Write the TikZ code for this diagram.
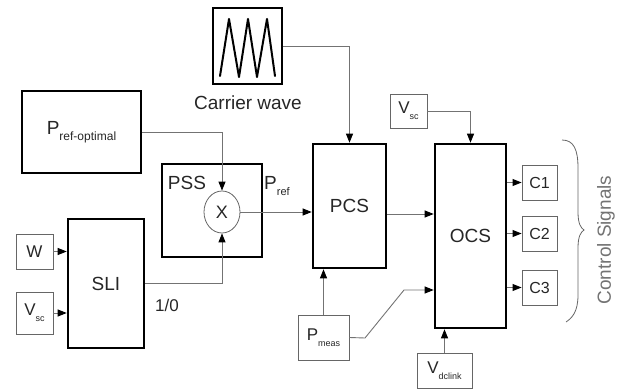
\documentclass[tikz,border=0pt]{standalone}
\usepackage{fontspec}
\setmainfont{Liberation Sans}
\usetikzlibrary{arrows.meta,shapes.geometric}
\newcommand{\fs}[1]{\fontsize{#1}{#1}\selectfont}
\newcommand{\sbx}[2]{\raisebox{-#1}{\fs{9}#2}}
\begin{document}
\begin{tikzpicture}[x=1pt,y=-1pt,
  thickbox/.style={draw=black,line width=2.6pt,inner sep=0pt,text=black!85},
  thinbox/.style={draw=black!60,line width=0.9pt,inner sep=0pt,text=black!85},
  conn/.style={draw=black!55,line width=0.9pt,-{Triangle[length=9pt,width=7pt,color=black,fill=black]}},
  lbl/.style={inner sep=0pt,text=black!85},
  big/.style={font=\fs{19}},
  mid/.style={font=\fs{17}}]
\useasboundingbox (0,0) rectangle (624,390);
% main blocks
\node[thickbox,minimum width=69,minimum height=76] (carrier) at (247.5,46) {};
\draw[line width=2pt,line join=round,line cap=round] (220,76) -- (229,19) -- (239,77) -- (248,19) -- (257,77) -- (267,19) -- (275,76);
\node[lbl,big] (cwlbl) at (248,103) {Carrier wave};
\node[thickbox,minimum width=119,minimum height=82,big] (pref) at (81.5,132) {P\sbx{6pt}{\fs{12}ref-optimal}};
\node[thickbox,minimum width=100,minimum height=93] (pss) at (212,210.5) {};
\node[lbl,big] (psslbl) at (187,183) {PSS};
\node[ellipse,draw=black!60,line width=0.8pt,minimum width=36,minimum height=42,inner sep=0pt,text=black!85,font=\fs{18}] (mult) at (222,212) {X};
\node[lbl,big,anchor=west] (preflbl) at (264,186) {P\sbx{6pt}{\fs{11}ref}};
\node[thickbox,minimum width=76,minimum height=129,big] (sli) at (106,283.5) {SLI};
\node[thinbox,minimum width=37,minimum height=35,mid] (w) at (34.5,251.5) {W};
\node[thinbox,minimum width=37,minimum height=42,mid] (vscl) at (34.5,313) {V\sbx{6pt}{sc}};
\node[lbl,mid] (onezero) at (167,305) {1/0};
\node[thickbox,minimum width=73,minimum height=124,big] (pcs) at (349.5,206) {PCS};
\node[thickbox,minimum width=71,minimum height=184,big] (ocs) at (470.5,236) {OCS};
\node[thinbox,minimum width=37,minimum height=34,mid] (vsct) at (408.5,111) {V\sbx{6pt}{sc}};
\node[thinbox,minimum width=35,minimum height=35,font=\fs{16}] (c1) at (539.5,182.5) {C1};
\node[thinbox,minimum width=35,minimum height=35,font=\fs{16}] (c2) at (539.5,233.5) {C2};
\node[thinbox,minimum width=35,minimum height=35,font=\fs{16}] (c3) at (539.5,287.5) {C3};
\node[thinbox,minimum width=51,minimum height=45,mid] (pmeas) at (323.5,337.5) {P\sbx{6pt}{meas}};
\node[thinbox,minimum width=55,minimum height=35,mid] (vdc) at (444.5,370.5) {V\sbx{6pt}{dclink}};
% connectors
\draw[conn] (carrier.east) -| (pcs.north);
\draw[conn] (pref.east) -| (mult.north);
\draw[conn] (w.east) -- (w.east -| sli.west);
\draw[conn] (vscl.east) -- (vscl.east -| sli.west);
\draw[conn] (sli.east) -| (mult.south);
\draw[conn] (mult.east) -- (mult.east -| pcs.west);
\coordinate (pcsout) at ([yshift=-8pt]pcs.east);
\draw[conn] (pcsout) -- (pcsout -| ocs.west);
\draw[conn] (vsct.east) -| (ocs.north);
\draw[conn] (c1.west -| ocs.east) -- (c1.west);
\draw[conn] (c2.west -| ocs.east) -- (c2.west);
\draw[conn] (c3.west -| ocs.east) -- (c3.west);
\draw[conn] (pmeas.north) -- (pmeas.north |- pcs.south);
\coordinate (k1) at (365,338);
\coordinate (k2) at (404,290);
\draw[conn] (pmeas.east) -- (k1) -- (k2) -- (k2 -| ocs.west);
\draw[conn] (vdc.north) -- (vdc.north |- ocs.south);
% brace
\draw[black!60,line width=0.8pt] (562,140) .. controls (574,140) and (578,150) .. (578,168) -- (578,212) .. controls (578,224) and (581,228) .. (584,230) .. controls (581,232) and (578,236) .. (578,248) -- (578,295) .. controls (578,312) and (572,318) .. (566,322);
\node[lbl,rotate=90,font=\fs{19},text=black!55] (cs) at (606,240) {Control Signals};
\end{tikzpicture}
\end{document}
